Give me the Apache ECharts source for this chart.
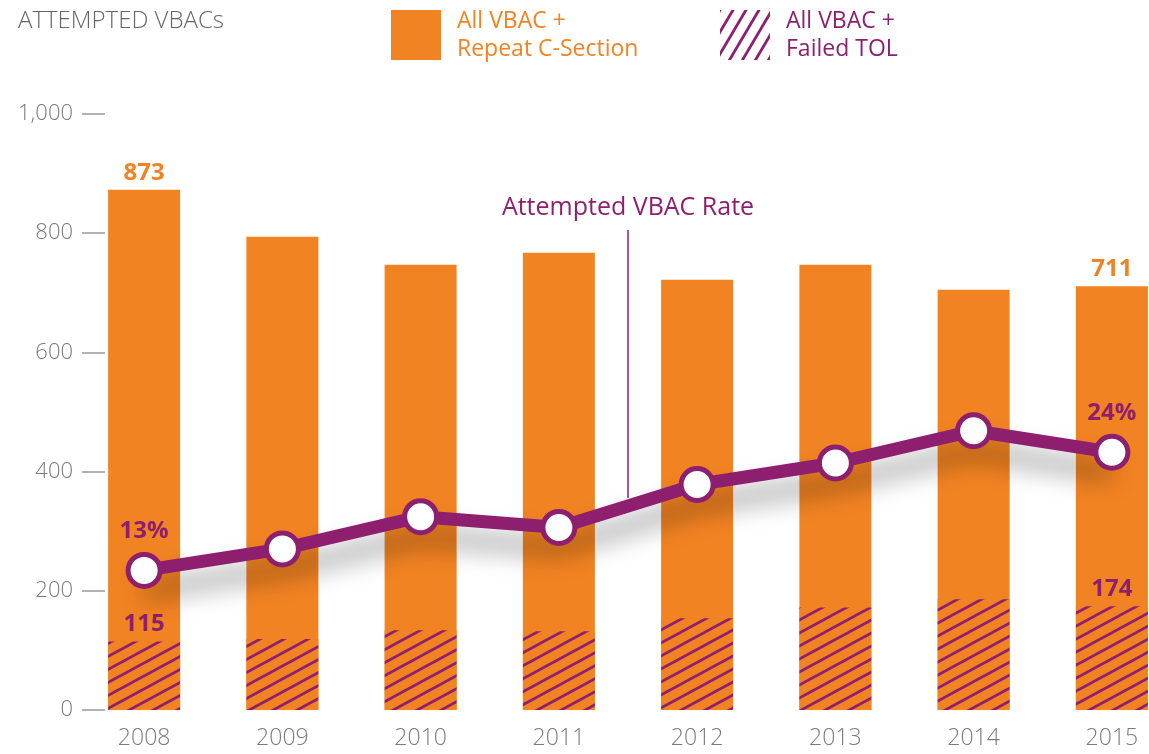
<!DOCTYPE html>
<html>
<head>
<meta charset="utf-8">
<script src="https://cdn.jsdelivr.net/npm/echarts@6/dist/echarts.min.js"></script>
<style>
html,body{margin:0;padding:0;background:#fff;}
#chart{width:1149px;height:754px;}
</style>
</head>
<body>
<div id="chart"></div>
<script>
// ---- data ----
const years = ['2008', '2009', '2010', '2011', '2012', '2013', '2014', '2015'];
const allVbacRepeatCs = [873, 794, 747, 767, 722, 747, 705, 711];
const allVbacFailedTol = [115, 119, 134, 132, 154, 172, 186, 174];
const attemptedVbacRate = [13, 15, 18, 17, 21, 23, 26, 24];
const yTickMin = 0, yTickMax = 1000, yTickStep = 200;

const nameOrange = 'All VBAC +\nRepeat C-Section';
const nameHatch = 'All VBAC +\nFailed TOL';

// ---- styles ----
const orange = '#F28322';
const purple = '#8E1F6F';
const grey = '#7a7a7a';
const font = '"Open Sans", Lato, sans-serif';

function stripes(bg, w, h, lw) {
  const c = document.createElement('canvas');
  c.width = w; c.height = h;
  const ctx = c.getContext('2d');
  if (bg) { ctx.fillStyle = bg; ctx.fillRect(0, 0, w, h); }
  ctx.strokeStyle = purple;
  ctx.lineWidth = lw;
  [-h, 0, h].forEach(function (dy) {
    ctx.beginPath();
    ctx.moveTo(-w, 2 * h + dy);
    ctx.lineTo(2 * w, -h + dy);
    ctx.stroke();
  });
  return c;
}
const barPattern = { image: stripes(orange, 24, 13, 2.8), repeat: 'repeat' };
const legendPattern = { image: stripes(null, 13, 22, 2.8), repeat: 'repeat' };

function edgeOnly(fmt) {
  return function (p) {
    return (p.dataIndex === 0 || p.dataIndex === years.length - 1) ? fmt(p.value) : '';
  };
}

const chart = echarts.init(document.getElementById('chart'));
chart.setOption({
  animation: false,
  grid: { left: 75, width: 1106, top: 114, bottom: 44, containLabel: false, outerBoundsMode: 'none' },
  legend: [
    {
      left: 391, top: 7, padding: 0, itemWidth: 50, itemHeight: 50, icon: 'rect',
      selectedMode: false,
      data: [{ name: nameOrange }],
      textStyle: { color: orange, fontSize: 23, lineHeight: 28, fontFamily: font, padding: [0, 0, 0, 11] }
    },
    {
      left: 720, top: 7, padding: 0, itemWidth: 50, itemHeight: 50, icon: 'rect',
      selectedMode: false,
      data: [{ name: nameHatch, itemStyle: { color: legendPattern } }],
      textStyle: { color: purple, fontSize: 23, lineHeight: 28, fontFamily: font, padding: [0, 0, 0, 11] }
    }
  ],
  xAxis: {
    type: 'category',
    data: years,
    axisLine: { show: false },
    axisTick: { show: false },
    axisLabel: { color: grey, fontSize: 23, fontFamily: font, fontWeight: 300, margin: 17 }
  },
  yAxis: [
    {
      type: 'value', min: yTickMin, max: yTickMax, interval: yTickStep,
      offset: -30,
      splitLine: { show: false },
      axisLine: { show: false },
      axisTick: { show: true, length: 23, lineStyle: { color: '#999', width: 1.5 } },
      axisLabel: {
        color: grey, fontSize: 22, fontFamily: font, fontWeight: 300, margin: 32,
        formatter: function (v) { return v.toLocaleString('en-US'); }
      }
    },
    { type: 'value', min: 0, max: 55.5, show: false }
  ],
  series: [
    {
      name: nameOrange,
      type: 'bar',
      data: allVbacRepeatCs,
      barWidth: 72,
      itemStyle: { color: orange },
      label: {
        show: true, position: 'top', distance: 5, color: orange,
        fontSize: 24, fontWeight: 'bold', fontFamily: font,
        formatter: edgeOnly(function (v) { return String(v); })
      },
      z: 2
    },
    {
      name: nameHatch,
      type: 'bar',
      data: allVbacFailedTol,
      barWidth: 72,
      barGap: '-100%',
      itemStyle: { color: barPattern },
      label: {
        show: true, position: 'top', distance: 5, color: purple,
        fontSize: 24, fontWeight: 'bold', fontFamily: font,
        formatter: edgeOnly(function (v) { return String(v); })
      },
      z: 3
    },
    {
      name: 'Attempted VBAC Rate',
      type: 'line',
      yAxisIndex: 1,
      data: attemptedVbacRate,
      symbol: 'circle',
      symbolSize: 32,
      lineStyle: {
        color: purple, width: 13,
        shadowColor: 'rgba(0,0,0,0.42)', shadowBlur: 26, shadowOffsetY: 20
      },
      itemStyle: { color: '#fff', borderColor: purple, borderWidth: 5 },
      label: {
        show: true, position: 'top', distance: 9, color: purple,
        fontSize: 24, fontWeight: 'bold', fontFamily: font,
        formatter: edgeOnly(function (v) { return v + '%'; })
      },
      z: 10
    }
  ],
  graphic: [
    {
      type: 'text', left: 18, top: 9,
      style: { text: 'ATTEMPTED VBACs', fill: '#666', fontSize: 24, fontFamily: font, fontWeight: 300 }
    },
    {
      type: 'text', x: 628, y: 208,
      style: {
        text: 'Attempted VBAC Rate', fill: purple, fontSize: 25, fontFamily: font,
        align: 'center', verticalAlign: 'middle'
      }
    },
    {
      type: 'line', z: 1,
      shape: { x1: 628, y1: 230, x2: 628, y2: 498 },
      style: { stroke: purple, lineWidth: 1.5 }
    }
  ]
});
</script>
</body>
</html>
